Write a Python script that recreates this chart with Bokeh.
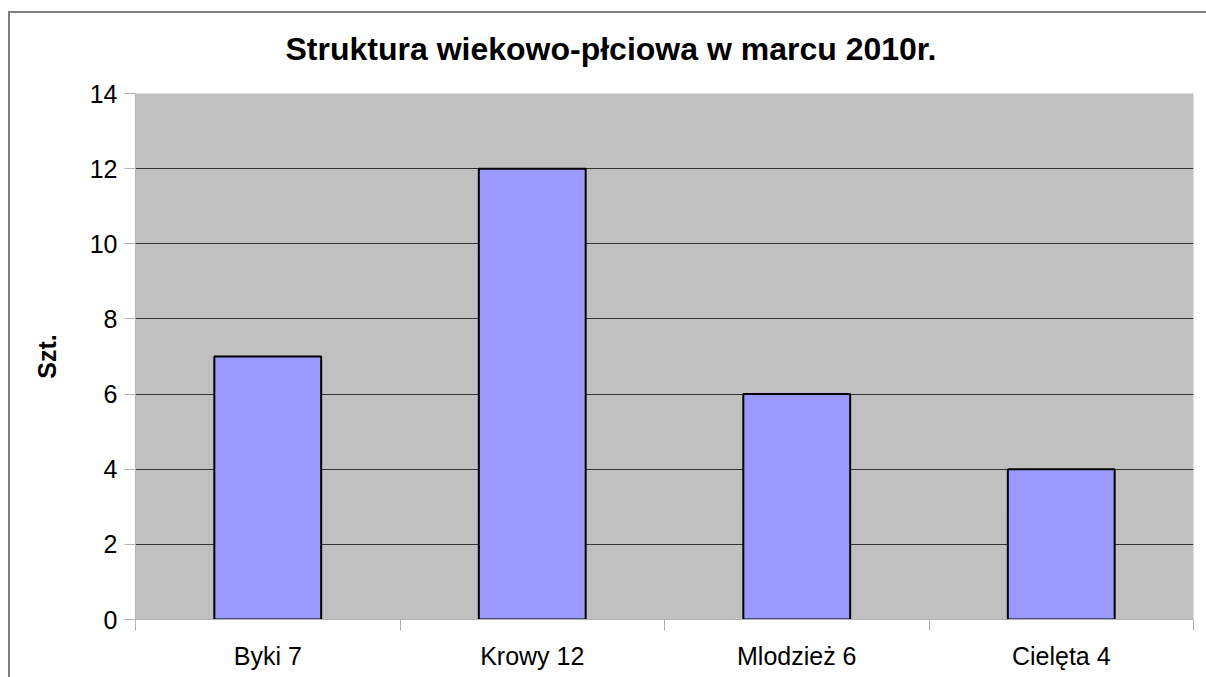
from bokeh.plotting import figure
from bokeh.models import FixedTicker, Range1d, ColumnDataSource
from bokeh.embed import file_html
from bokeh.resources import INLINE

categories = ["Byki 7", "Krowy 12", "Mlodzież 6", "Cielęta 4"]
values = [7, 12, 6, 4]
y_ticks = [0, 2, 4, 6, 8, 10, 12, 14]

centers = [i + 0.5 for i in range(len(categories))]
bounds = [float(i) for i in range(len(categories) + 1)]
src = ColumnDataSource(data=dict(x=centers, top=values, name=categories))

FONT = "Liberation Sans"

p = figure(width=1206, height=677, output_backend="svg", toolbar_location=None,
           x_range=Range1d(0, len(categories)), y_range=Range1d(0, 14),
           min_border_left=135, min_border_top=93, min_border_right=13, min_border_bottom=58,
           title="Struktura wiekowo-płciowa w marcu 2010r.")
# outer chart frame (left and top edges) drawn behind a transparent border fill
p.styles = {
    "background-color": "white",
    "background-image": "linear-gradient(#7f7f7f, #7f7f7f), linear-gradient(#7f7f7f, #7f7f7f)",
    "background-size": "2px 100%, 100% 2px",
    "background-position": "8px 11px, 8px 11px",
    "background-repeat": "no-repeat",
}

p.background_fill_color = "#c0c0c0"
p.border_fill_alpha = 0
p.outline_line_color = None

p.vbar(x="x", top="top", bottom=0, width=0.404, source=src,
       fill_color="#9999ff", line_color="black", line_width=2)

p.title.text_font = FONT
p.title.text_font_size = "32px"
p.title.text_font_style = "bold"
p.title.text_color = "black"
p.title.align = "left"
p.title.offset = 150
p.title.standoff = 53

# x axis
xa = p.xaxis[0]
xa.ticker = FixedTicker(ticks=centers, minor_ticks=bounds)
xa.major_label_overrides = {c: n for c, n in zip(centers, categories)}
xa.major_tick_out = 0
xa.major_tick_in = 0
xa.minor_tick_out = 11
xa.minor_tick_in = 0
xa.minor_tick_line_color = "#b3b3b3"
xa.axis_line_color = "#b3b3b3"
xa.major_label_text_font = FONT
xa.major_label_text_font_size = "25px"
xa.major_label_text_color = "black"
xa.major_label_standoff = 11

# y axis
ya = p.yaxis[0]
ya.ticker = FixedTicker(ticks=y_ticks, minor_ticks=[])
ya.major_tick_out = 11
ya.major_tick_in = 0
ya.major_tick_line_color = "#b3b3b3"
ya.axis_line_color = "#b3b3b3"
ya.major_label_text_font = FONT
ya.major_label_text_font_size = "25px"
ya.major_label_text_color = "black"
ya.major_label_standoff = 7
ya.axis_label = "Szt."
ya.axis_label_text_font = FONT
ya.axis_label_text_font_size = "25px"
ya.axis_label_text_font_style = "bold"
ya.axis_label_text_color = "black"
ya.axis_label_standoff = 26

p.xgrid.grid_line_color = None
p.ygrid.ticker = FixedTicker(ticks=y_ticks)
p.ygrid.grid_line_color = "#333333"
p.ygrid.grid_line_width = 1

open("out.html", "w").write(file_html(p, INLINE))
